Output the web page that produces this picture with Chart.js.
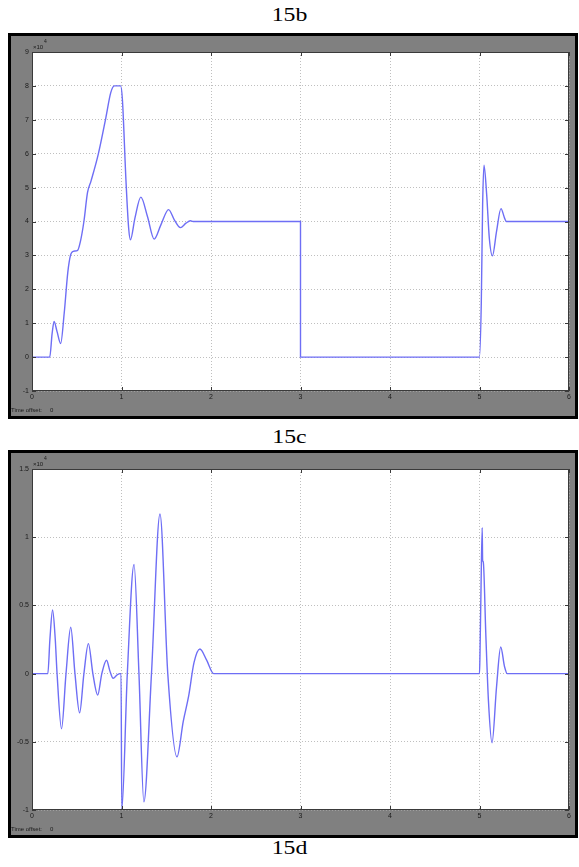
<!DOCTYPE html>
<html>
<head>
<meta charset="utf-8">
<script src="https://cdn.jsdelivr.net/npm/chart.js@4.4.0/dist/chart.umd.min.js"></script>
<style>
  body { margin: 0; background: #fff; width: 579px; height: 867px; position: relative; overflow: hidden; }
  .caption { position: absolute; left: 0; width: 579px; text-align: center; font: 19px/19px "Liberation Serif", "Times New Roman", serif; color: #000; transform: scaleX(1.25); }
  .frame { position: absolute; left: 8px; width: 564px; border: 3px solid #000; background: #808080; }
</style>
</head>
<body>
<div class="caption" style="top:5px">15b</div>
<div class="frame" style="top:33px;height:380px"><canvas id="scopeB"></canvas></div>
<div class="caption" style="top:427px">15c</div>
<div class="frame" style="top:450px;height:382px"><canvas id="scopeC"></canvas></div>
<div class="caption" style="top:838px">15d</div>
<script>
// 15b: values in units of 10^4
const timeB = [0, 0.198, 0.225, 0.247, 0.28, 0.32, 0.36, 0.40, 0.43, 0.46, 0.51, 0.54, 0.58, 0.62, 0.66, 0.74, 0.825, 0.88, 0.92, 0.99,
  1.01, 1.05, 1.08, 1.10, 1.15, 1.216, 1.29, 1.365, 1.44, 1.526, 1.59, 1.658, 1.72, 1.77, 1.80, 3.0, 3.0, 5.0,
  5.02, 5.035, 5.05, 5.08, 5.11, 5.145, 5.19, 5.24, 5.28, 5.30, 6.0]
const valueB = [0, 0, 0.7, 1.05, 0.75, 0.40, 1.3, 2.5, 3.0, 3.12, 3.15, 3.4, 4.0, 4.85, 5.2, 5.98, 7.06, 7.8, 8.0, 8.0,
  7.6, 5.2, 3.8, 3.46, 4.1, 4.72, 4.15, 3.48, 3.9, 4.35, 4.05, 3.82, 3.95, 4.02, 4.0, 4.0, 0, 0,
  1.6, 4.5, 5.66, 4.8, 3.5, 2.99, 3.7, 4.38, 4.1, 4.0, 4.0]

// 15c: values in units of 10^4
const timeC = [0, 0.177, 0.20, 0.23, 0.26, 0.28, 0.33, 0.38, 0.433, 0.48, 0.532, 0.58, 0.63, 0.68, 0.734, 0.78, 0.833, 0.87, 0.907, 0.95, 0.985, 0.995,
  1.003, 1.065, 1.14, 1.195, 1.25, 1.335, 1.43, 1.517, 1.62, 1.69, 1.75, 1.81, 1.876, 1.95, 2.03, 5.0,
  5.005, 5.015, 5.03, 5.035, 5.042, 5.07, 5.10, 5.14, 5.19, 5.237, 5.28, 5.31, 6.0]
const valueC = [0, 0, 0.25, 0.466, 0.25, 0, -0.405, 0, 0.34, 0, -0.288, 0, 0.22, 0, -0.158, 0, 0.098, 0.02, -0.034, -0.01, 0, 0,
  -1.0, 0, 0.80, 0, -0.94, 0, 1.17, 0, -0.61, -0.35, -0.166, 0.08, 0.18, 0.1, 0, 0,
  0.13, 0.54, 1.07, 0.83, 0.82, 0.3, -0.2, -0.507, -0.1, 0.195, 0.05, 0, 0]

const xTicks = [0, 1, 2, 3, 4, 5, 6]
const yTicksB = [-1, 0, 1, 2, 3, 4, 5, 6, 7, 8, 9]
const yTicksC = [-1, -0.5, 0, 0.5, 1, 1.5]

const tickFont = { family: 'Liberation Sans', size: 7 }

// white plot area, box, inward ticks and the scope texts
const scopePlugin = {
  id: 'scope',
  beforeDraw( chart ) {
    const { ctx, chartArea: a } = chart
    ctx.save()
    ctx.fillStyle = '#fff'
    ctx.fillRect( a.left, a.top, a.right - a.left, a.bottom - a.top )
    ctx.restore()
  },
  afterDraw( chart ) {
    const { ctx, chartArea: a, scales } = chart
    ctx.save()
    ctx.strokeStyle = '#3a3a3a'
    ctx.lineWidth = 1
    ctx.strokeRect( a.left + 0.5, a.top + 0.5, a.right - a.left - 1, a.bottom - a.top - 1 )
    ctx.beginPath()
    scales.x.ticks.forEach( t => {
      const px = Math.round( scales.x.getPixelForValue( t.value ) ) + 0.5
      ctx.moveTo( px, a.bottom ); ctx.lineTo( px, a.bottom - 4 )
      ctx.moveTo( px, a.top ); ctx.lineTo( px, a.top + 4 )
    } )
    scales.y.ticks.forEach( t => {
      const py = Math.round( scales.y.getPixelForValue( t.value ) ) + 0.5
      ctx.moveTo( a.left, py ); ctx.lineTo( a.left + 4, py )
      ctx.moveTo( a.right, py ); ctx.lineTo( a.right - 4, py )
    } )
    ctx.stroke()
    ctx.fillStyle = '#1a1a1a'
    ctx.font = '6px Liberation Sans'
    ctx.fillText( '×10', a.left + 1, a.top - 3 )
    ctx.font = '5px Liberation Sans'
    ctx.fillText( '4', a.left + 12, a.top - 9 )
    ctx.font = '6px Liberation Sans'
    ctx.fillText( 'Time offset:', 0, chart.height - 4 )
    ctx.fillText( '0', 39, chart.height - 4 )
    ctx.restore()
  }
}

function makeScope( canvasId, times, values, yTicks, yMin, yMax, xHeight ) {
  const data = {
    datasets: [ {
      data: times.map( ( t, i ) => ( { x: t, y: values[ i ] } ) ),
      borderColor: 'rgb(110,110,245)',
      borderWidth: 1.4,
      pointRadius: 0,
      fill: false,
      cubicInterpolationMode: 'monotone'
    } ]
  }
  const config = {
    type: 'line',
    data: data,
    plugins: [ scopePlugin ],
    options: {
      responsive: true,
      maintainAspectRatio: false,
      animation: false,
      layout: { padding: { left: 0, right: 6, top: 16, bottom: 0 } },
      plugins: { legend: { display: false }, tooltip: { enabled: false } },
      scales: {
        x: {
          type: 'linear',
          min: 0,
          max: 6,
          afterBuildTicks: s => { s.ticks = xTicks.map( v => ( { value: v } ) ) },
          afterFit: s => { s.height = xHeight },
          ticks: { font: tickFont, color: '#1a1a1a', padding: 2, maxRotation: 0, autoSkip: false },
          grid: { color: 'rgba(170,170,170,0.75)', drawTicks: false },
          border: { display: false, dash: [ 1, 2 ] }
        },
        y: {
          min: yMin,
          max: yMax,
          afterBuildTicks: s => { s.ticks = yTicks.map( v => ( { value: v } ) ) },
          afterFit: s => { s.width = 21 },
          ticks: { font: tickFont, color: '#1a1a1a', padding: 3, autoSkip: false, callback: v => String( v ) },
          grid: { color: 'rgba(170,170,170,0.75)', drawTicks: false },
          border: { display: false, dash: [ 1, 2 ] }
        }
      }
    }
  }
  return new Chart( document.getElementById( canvasId ), config )
}

makeScope( 'scopeB', timeB, valueB, yTicksB, -1, 9, 25 )
makeScope( 'scopeC', timeC, valueC, yTicksC, -1, 1.5, 25 )
</script>
</body>
</html>
